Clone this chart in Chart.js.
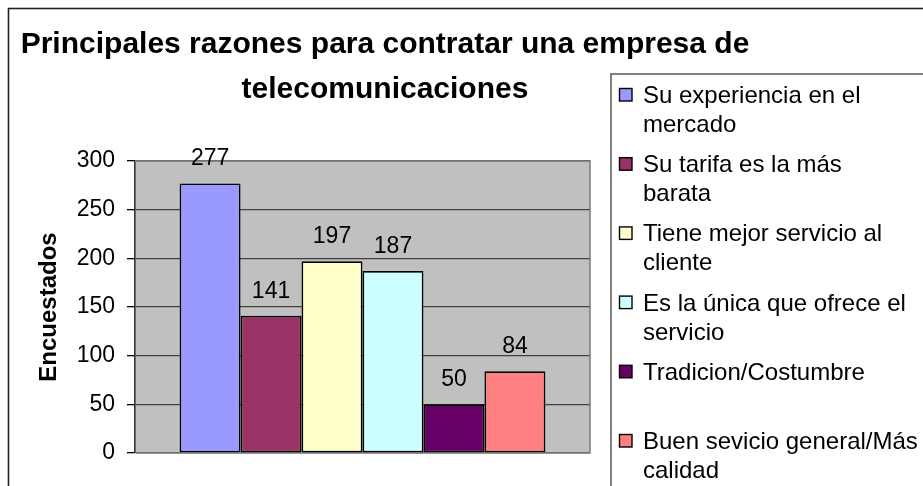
<!DOCTYPE html>
<html><head><meta charset="utf-8">
<script src="https://cdn.jsdelivr.net/npm/chart.js@4.4.1/dist/chart.umd.min.js"></script>
<style>html,body{margin:0;padding:0;background:#fff;overflow:hidden}#wrap{width:923px;height:486px;position:relative}</style>
</head><body><div id="wrap"><canvas id="c" width="923" height="486"></canvas></div>
<script>
const titleLines = ["Principales razones para contratar una empresa de", "telecomunicaciones"];
const categories = [""];
const seriesNames = ["Su experiencia en el mercado", "Su tarifa es la más barata", "Tiene mejor servicio al cliente", "Es la única que ofrece el servicio", "Tradicion/Costumbre", "Buen sevicio general/Más calidad"];
const legendLines = [["Su experiencia en el", "mercado"], ["Su tarifa es la más", "barata"], ["Tiene mejor servicio al", "cliente"], ["Es la única que ofrece el", "servicio"], ["Tradicion/Costumbre"], ["Buen sevicio general/Más", "calidad"]];
const values = [277, 141, 197, 187, 50, 84];
const colors = ["#9999FF", "#993366", "#FFFFCC", "#CCFFFF", "#660066", "#FF8080"];
const yTicks = [0, 50, 100, 150, 200, 250, 300];
const yAxisTitle = "Encuestados";

const FONT = "'Liberation Sans', Arial, sans-serif";

const decor = {
  id: 'decor',
  beforeDraw(chart) {
    const ctx = chart.ctx, a = chart.chartArea;
    ctx.save();
    ctx.fillStyle = '#fff';
    ctx.fillRect(0, 0, chart.width, chart.height);
    ctx.strokeStyle = '#222';
    ctx.lineWidth = 1.6;
    ctx.strokeRect(8.5, 8.5, 1000, 1000);
    ctx.fillStyle = '#C0C0C0';
    ctx.fillRect(a.left, a.top, a.right - a.left, a.bottom - a.top);
    ctx.restore();
  },
  afterDatasetsDraw(chart) {
    const ctx = chart.ctx, a = chart.chartArea;
    ctx.save();
    // plot border (top, right, bottom)
    ctx.strokeStyle = '#808080';
    ctx.lineWidth = 1.6;
    ctx.beginPath();
    ctx.moveTo(a.left, a.top); ctx.lineTo(a.right, a.top); ctx.lineTo(a.right, a.bottom); ctx.lineTo(a.left + 1, a.bottom);
    ctx.stroke();
    // data labels
    ctx.fillStyle = '#000';
    ctx.font = '23px ' + FONT;
    ctx.textAlign = 'center';
    ctx.textBaseline = 'alphabetic';
    chart.data.datasets.forEach((ds, i) => {
      const meta = chart.getDatasetMeta(i);
      meta.data.forEach((bar, j) => {
        ctx.fillText(String(ds.data[j]), bar.x, bar.y - 18);
      });
    });
    // title
    ctx.font = 'bold 30px ' + FONT;
    ctx.fillText(titleLines[0], 385, 53);
    ctx.fillText(titleLines[1], 385, 98);
    // legend
    ctx.strokeStyle = '#808080';
    ctx.lineWidth = 2;
    ctx.strokeRect(611, 74, 400, 500);
    ctx.font = '24px ' + FONT;
    ctx.textAlign = 'left';
    chart.data.datasets.forEach((ds, i) => {
      const base = 103 + i * 69.2;
      ctx.fillStyle = ds.backgroundColor;
      ctx.fillRect(619.5, base - 14.5, 12.5, 12.5);
      ctx.strokeStyle = '#000';
      ctx.lineWidth = 1.4;
      ctx.strokeRect(619.5, base - 14.5, 12.5, 12.5);
      ctx.fillStyle = '#000';
      legendLines[i].forEach((ln, k) => ctx.fillText(ln, 643, base + k * 29));
    });
    ctx.restore();
  }
};

new Chart(document.getElementById('c'), {
  type: 'bar',
  data: {
    labels: categories,
    datasets: seriesNames.map((name, i) => ({
      label: name,
      data: [values[i]],
      backgroundColor: colors[i],
      borderColor: '#000',
      borderWidth: 1.7,
      borderSkipped: false,
      categoryPercentage: 0.804,
      barPercentage: 1.0
    }))
  },
  options: {
    responsive: false,
    animation: false,
    devicePixelRatio: 1,
    layout: { padding: { left: 0, top: 161, right: 333, bottom: 33 } },
    plugins: { legend: { display: false }, title: { display: false }, tooltip: { enabled: false } },
    scales: {
      x: { display: false },
      y: {
        min: 0, max: 300,
        afterBuildTicks(scale) { scale.ticks = yTicks.map(v => ({ value: v })); },
        afterFit(scale) { scale.width = 135; },
        ticks: { color: '#000', font: { family: FONT, size: 23 }, padding: 12 },
        grid: { color: '#404040', lineWidth: 1.3, tickLength: 8, tickColor: '#000', drawTicks: true },
        border: { display: true, color: '#333', width: 1.6 },
        title: { display: true, text: yAxisTitle, color: '#000', font: { family: FONT, size: 24, weight: 'bold' }, padding: { top: 35, bottom: 0 } }
      }
    }
  },
  plugins: [decor]
});
</script>
</body></html>
